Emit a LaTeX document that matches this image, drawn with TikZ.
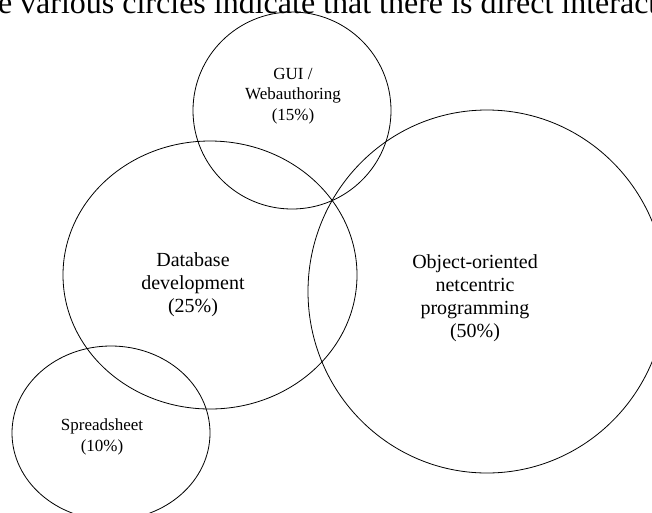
\documentclass[tikz,border=0pt]{standalone}
\usepackage{fontspec}
\setmainfont{Liberation Serif}
\usepackage{tikz}

\begin{document}
\begin{tikzpicture}[x=1pt, y=-1pt,
	area/.style={draw=black, line width=0.8pt},
	biglabel/.style={align=center, inner sep=0pt, font=\fontsize{20}{23}\selectfont},
	smalllabel/.style={align=center, inner sep=0pt, font=\fontsize{17}{20.5}\selectfont}]
	\useasboundingbox (0,0) rectangle (652,512);
	\clip (0,0) rectangle (652,512);
	\node[anchor=base west, inner sep=0pt, font=\fontsize{32}{36}\selectfont] (caption) at (20,13.5) {\llap{The }various circles indicate that there is direct interaction};
	\draw[area] (292,110.5) ellipse [x radius=99, y radius=98.5];
	\draw[area] (210,275) ellipse [x radius=147, y radius=134];
	\draw[area] (487,291.5) ellipse [x radius=179, y radius=181.5];
	\draw[area] (111,433) ellipse [x radius=99, y radius=87];
	\node[smalllabel] (gui) at (293,96) {GUI /\\Webauthoring\\(15\%)};
	\node[biglabel] (database) at (193,285) {Database\\development\\(25\%)};
	\node[biglabel] (objects) at (475,298.5) {Object-oriented\\netcentric\\programming\\(50\%)};
	\node[smalllabel] (spreadsheet) at (102,437) {Spreadsheet\\(10\%)};
\end{tikzpicture}
\end{document}
